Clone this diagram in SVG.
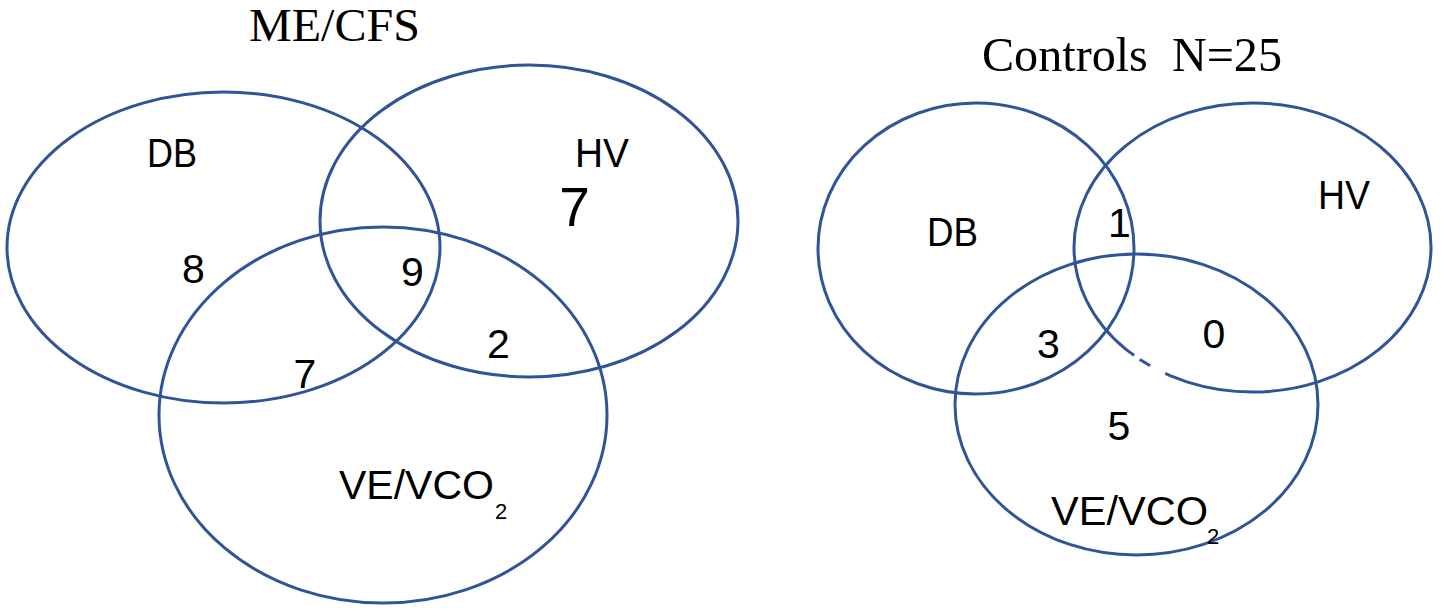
<svg xmlns="http://www.w3.org/2000/svg" width="1441" height="613" viewBox="0 0 1441 613">
<style>
  .set { fill: none; stroke: #2F5597; stroke-width: 3; }
  .lbl { font-family: "Liberation Sans", Arial, sans-serif; font-size: 41px; fill: #000; text-anchor: middle; }
  .num { font-family: "Liberation Sans", Arial, sans-serif; font-size: 41px; fill: #000; text-anchor: middle; }
  .big { font-size: 55px; }
  .ve { font-family: "Liberation Sans", Arial, sans-serif; font-size: 41px; fill: #000; }
  .sub { font-family: "Liberation Sans", Arial, sans-serif; font-size: 22px; fill: #000; }
  .title { font-family: "Liberation Serif", "Times New Roman", serif; fill: #000; }
</style>
<rect width="1441" height="613" fill="#fff"/>

<g id="title-mecfs"><text class="title" x="249" y="41" font-size="47" textLength="171" lengthAdjust="spacingAndGlyphs">ME/CFS</text></g>
<g id="title-controls"><text class="title" x="982" y="71" font-size="48" xml:space="preserve" textLength="300" lengthAdjust="spacingAndGlyphs">Controls  N=25</text></g>

<g id="left-venn">
  <g id="L-DB"><ellipse class="set" cx="223.5" cy="247.5" rx="216.5" ry="155.5"/><text class="lbl" x="172" y="167" textLength="50" lengthAdjust="spacingAndGlyphs">DB</text></g>
  <g id="L-HV"><ellipse class="set" cx="529" cy="221" rx="209" ry="156"/><text class="lbl" x="602" y="167" textLength="54" lengthAdjust="spacingAndGlyphs">HV</text></g>
  <g id="L-VE"><ellipse class="set" cx="383" cy="415" rx="224" ry="188"/>
    <text class="ve" x="339" y="499" textLength="155" lengthAdjust="spacingAndGlyphs">VE/VCO</text><text class="sub" x="495" y="519">2</text></g>
  <g id="L-counts">
    <text class="num big" x="574.5" y="226">7</text>
    <text class="num" x="193.5" y="283">8</text>
    <text class="num" x="412.5" y="286">9</text>
    <text class="num" x="305" y="388">7</text>
    <text class="num" x="498.5" y="358">2</text>
  </g>
</g>

<g id="right-venn">
  <g id="R-DB"><ellipse class="set" cx="976" cy="248.5" rx="158" ry="145.5"/><text class="lbl" x="952.5" y="246" textLength="51" lengthAdjust="spacingAndGlyphs">DB</text></g>
  <g id="R-HV"><ellipse class="set" cx="1252.5" cy="247.5" rx="178.5" ry="144.5"/><text class="lbl" x="1344" y="209" textLength="52" lengthAdjust="spacingAndGlyphs">HV</text>
    <path d="M1134,355.6 A178.5,144.5 0 0 0 1166,373.9" fill="none" stroke="#fff" stroke-width="5" stroke-dasharray="7 12 17"/></g>
  <g id="R-VE"><ellipse class="set" cx="1136.5" cy="404.5" rx="181.5" ry="150.5"/>
    <text class="ve" x="1051" y="525" textLength="157" lengthAdjust="spacingAndGlyphs">VE/VCO</text><text class="sub" x="1207" y="544">2</text></g>
  <g id="R-counts">
    <text class="num" x="1119.5" y="237">1</text>
    <text class="num" x="1048.5" y="358">3</text>
    <text class="num" x="1214" y="348">0</text>
    <text class="num" x="1119" y="440">5</text>
  </g>
</g>
<g id="connectors"/>
</svg>
